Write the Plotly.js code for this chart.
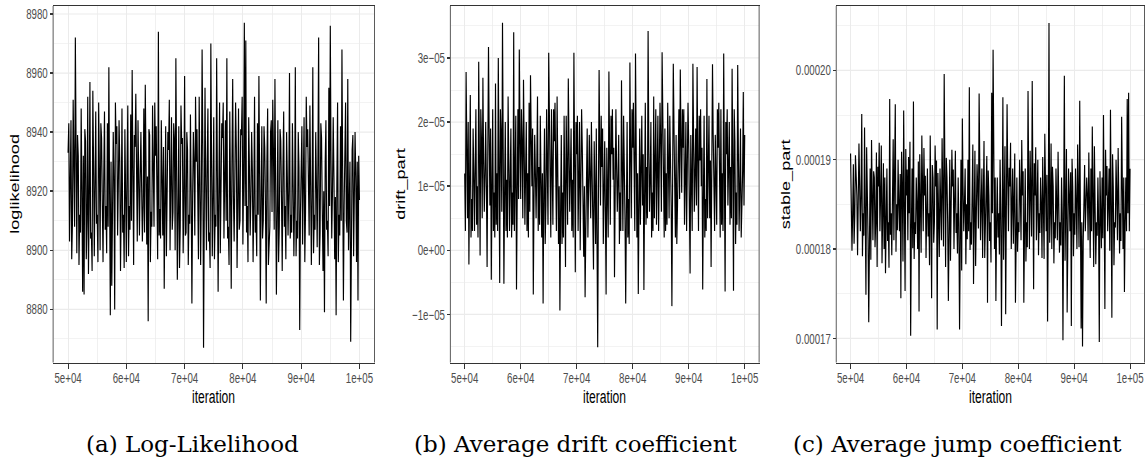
<!DOCTYPE html>
<html>
<head>
<meta charset="utf-8">
<script src="https://cdn.plot.ly/plotly-3.0.1.min.js"></script>
<style>
  html, body { margin: 0; padding: 0; background: #ffffff; }
  #wrap { position: relative; width: 1148px; height: 460px; background: #ffffff; overflow: hidden; }
  #main { position: absolute; left: 0; top: 0; width: 1148px; height: 285px; transform: scaleY(1.5); transform-origin: 0 0; }
  #caps { position: absolute; left: 0; top: 426px; width: 1148px; height: 36px; }
</style>
</head>
<body>
<div id="wrap">
  <div id="main"></div>
  <div id="caps"></div>
</div>
<script>
// ---------------- data ----------------
const iterStart = 50000;
const iterStep = 125;

const xTickVals = [50000, 60000, 70000, 80000, 90000, 100000];
const xTickText = ["5e+04", "6e+04", "7e+04", "8e+04", "9e+04", "1e+05"];

const logLikTickVals = [8880, 8900, 8920, 8940, 8960, 8980];
const driftTickVals = [-1e-5, 0, 1e-5, 2e-5, 3e-5];
const driftTickText = ["\u22121e\u221205", "0e+00", "1e\u221205", "2e\u221205", "3e\u221205"];
const stableTickVals = [0.00017, 0.00018, 0.00019, 0.00020];
const stableTickText = ["0.00017", "0.00018", "0.00019", "0.00020"];

const panelTitles = ["loglikelihood", "drift_part", "stable_part"];
const xTitle = "iteration";
const captions = ["(a) Log-Likelihood", "(b) Average drift coefficient", "(c) Average jump coefficient"];

// loglikelihood trace
const logLikelihood = [
8933,8943,8903,8918,8944,8897,8909,8951,8930,8908,8972,8926,8899,8939,8932,8895,8912,8906,8948,8920,
8886,8932,8885,8941,8937,8897,8910,8952,8892,8915,8957,8904,8906,8893,8954,8930,8898,8922,8947,8909,
8912,8896,8950,8928,8900,8943,8938,8916,8896,8925,8947,8907,8915,8899,8943,8908,8962,8920,8878,8930,
8888,8912,8940,8925,8880,8950,8936,8942,8905,8922,8944,8930,8893,8915,8948,8906,8912,8894,8941,8920,
8896,8928,8949,8898,8915,8907,8946,8910,8961,8927,8895,8939,8935,8953,8910,8903,8944,8918,8905,8925,
8940,8921,8903,8915,8948,8906,8956,8930,8902,8925,8876,8941,8939,8896,8913,8908,8949,8928,8908,8950,
8932,8942,8919,8897,8974,8905,8914,8904,8944,8925,8905,8935,8887,8916,8942,8898,8916,8940,8934,8951,
8900,8920,8945,8907,8913,8943,8938,8900,8965,8928,8890,8912,8942,8894,8908,8949,8936,8938,8899,8918,
8959,8905,8906,8940,8934,8895,8912,8909,8946,8920,8882,8918,8940,8930,8905,8952,8930,8941,8910,8897,
8952,8926,8895,8920,8968,8935,8867,8912,8955,8922,8900,8930,8948,8903,8906,8894,8970,8930,8898,8918,
8945,8897,8912,8908,8965,8925,8886,8920,8950,8899,8915,8943,8938,8950,8904,8920,8944,8910,8965,8904,
8908,8895,8947,8920,8887,8930,8958,8918,8903,8925,8950,8935,8894,8916,8948,8907,8910,8941,8939,8952,
8902,8925,8977,8915,8971,8906,8915,8896,8945,8928,8905,8918,8940,8927,8896,8915,8952,8906,8912,8898,
8943,8912,8959,8925,8883,8918,8942,8904,8910,8942,8935,8915,8882,8930,8948,8895,8907,8908,8940,8944,
8913,8951,8933,8907,8958,8924,8885,8912,8944,8896,8908,8941,8937,8918,8893,8928,8947,8908,8915,8897,
8940,8925,8905,8920,8960,8904,8912,8906,8943,8922,8898,8916,8962,8898,8910,8904,8940,8928,8873,8912,
8938,8942,8902,8918,8945,8896,8913,8952,8935,8941,8908,8905,8949,8925,8895,8918,8962,8899,8912,8907,
8940,8922,8901,8930,8972,8895,8906,8943,8938,8914,8893,8920,8879,8930,8944,8907,8910,8898,8955,8915,
8976,8930,8904,8920,8945,8925,8897,8918,8878,8922,8950,8896,8912,8905,8942,8910,8968,8926,8883,8915,
8936,8950,8910,8906,8958,8900,8915,8930,8869,8920,8934,8939,8898,8918,8940,8925,8896,8930,8883,8932,
8917];

// drift_part trace, in units of 1e-6
const driftPartE6 = [
12,3,27.8,14,5,20,-2.2,11,24.2,2,8,3,19,12,3,13,22,4,10,2,
29.4,15,-0.8,22,17,5,26.9,14,6,12,20,10,-2.6,15,31.7,18,7,19,-4.6,10,
22,3,9,2,26,4,12,3,30.0,13,-5.1,22,18,6,35.5,16,-5.2,9,20,3,
11,2,24,14,3,11,19,2,9,4,34.0,3,14,21,-6.1,12,22,8,31.3,17,
8,22,17,5,26.6,16,4,12,20,3,12,2,23,6,27.3,18,10,19,-6.9,8,
18,12,5,13,24,3,13,4,21,11,2,12,-8.3,9,19,1,7,22,16,4,
30.8,20,10,2,22,13,4,22,17,23,13,3,24,12,1,10,-9.4,6,18,1,
9,2,21,10,-2.6,21,14,4,26.8,15,6,12,19,3,11,2,30.8,14,-3.4,20,
15,21,3,11,20,0,8,22,16,8,-1,10,-7.3,3,12,19,2,10,18,11,
5,20,14,8,-3,17,10,1,19,5,-15.1,8,28.1,16,7,21,13,19,1,9,
17,6,-6.9,16,9,2,27.9,14,4,21,15,22,11,16,-4.2,9,22,13,6,11,
18,1,9,3,26.5,13,3,21,14,5,-8.3,8,20,2,8,1,29.3,15,5,22,
16,23,10,3,30.7,14,2,12,-6.8,7,19,4,12,21,7,15,-6.2,10,23,4,
13,5,34.2,16,6,11,20,2,9,3,24,5,14,22,4,12,21,3,11,23,
17,6,30.9,18,8,2,19,3,12,4,23,14,5,21,15,7,-8.7,10,29.1,19,
10,2,18,1,7,14,22,8,28.2,17,9,22,16,22,4,11,20,3,12,23,
17,9,-3.6,18,11,3,29.1,15,6,12,19,7,28.6,14,3,21,14,22,10,16,
-6.1,8,21,2,8,3,26.7,5,13,21,5,14,-2.6,12,29.0,18,11,3,18,12,
4,22,16,23,9,2,22,4,12,3,30.7,13,-6.4,20,15,22,7,13,20,4,
13,5,28.3,14,-6.3,22,17,1,9,4,28.9,15,3,10,19,2,8,12,24.7,7,
18];

// stable_part trace, in units of 1e-6
const stablePartE6 = [
190.7,185,179.8,184,189.5,180.6,183.6,190.5,188,186,179.3,185,191.8,187,182,186,195.1,179.2,184,181.5,
193.6,184,174.9,191.4,187,181.2,171.8,183,189,178.8,192.2,186,181,188.7,188,180.2,183,190.8,178.0,189.2,
187,191.9,182,186,191.6,178.4,185,189.6,180,188,177.3,184,189,180.9,183,177.9,196.8,181.6,184,179.3,
188,192.3,181,186,196.2,179.7,185,182.1,190,185,182,188.4,174.5,190.9,187,178.6,195.5,185,175.3,191.2,
186,188.9,181,190.3,184,192.0,170.3,182,189,180.1,196.5,178.9,183,181.7,188,185,180,189.8,173.0,190.6,
187,179.6,192.7,186,182,191.3,186,188.2,179,184,189,181.4,184,178.2,192.7,184,174.5,189.4,188,180.7,
183,191.6,187,189.9,171.0,188.5,185,179.1,189,185,181,192.4,186,180.3,199.6,188,178,190.2,188,183,
174.2,182,190,178.7,183,191.1,187,188.9,180,185,191,181.8,184,179.5,188,183,171.0,180.8,190,177.6,
194.6,187,182,185,189,178.3,185,181.1,190,182,198.1,179.9,183,180.5,188,191.7,176.1,184,191,178.1,
184,189.5,187,182.3,197.4,188,181,185,189,179.0,185,192.1,179,184,188,190.4,174.0,188.8,186,180.9,
183,178.5,197.5,184,202.3,188,180,188,174.2,183,188,181.3,184,179.4,190,184,171.4,183,197.0,178.8,
185,191.5,172.7,183,196.2,188,182,189.1,187,191.9,180,185,189,180.6,184,190.7,174.0,182,188,179.7,
183,181.9,190,186,181,192.2,186,188.7,174.0,182,189,178.6,183,180.2,197.7,187,180,191.0,187,181.4,
198.8,186,175.5,189.6,186,191.4,181,185,190,179.3,184,181.8,188,185,179,190.3,186,178.9,192.9,187,
182,188.3,171.9,184,205.3,180.7,184,191.8,180,189.2,187,178.4,183,181.2,189,185,181,190.9,186,179.6,
183,180.4,188,184,169.8,183,199.4,178.7,184,191.2,172.9,182,189,186,182,188.6,171.4,190.1,187,179.2,
184,181.6,189,185,180,191.7,186,180.2,196.6,185,171.1,183,169.1,180.8,187,189.4,182,185,188,186,
181,190.8,185,179.0,189,182,193.7,186,178,191.5,186,178.3,183,181.5,188,183,169.6,188.7,184,180.1,
188,181.2,195.0,185,173.3,191.1,186,189.3,182,185,189,179.8,195.6,185,172.3,190.6,187,178.2,183,182.4,
190,186,181,191.3,186,179.5,184,180.9,194.8,186,180,188,175.2,183,188,182,196.8,184,197.5,182,
189];

// ---------------- build ----------------
const iteration = logLikelihood.map((_, i) => iterStart + i * iterStep);
const driftPart = driftPartE6.map(v => v * 1e-6);
const stablePart = stablePartE6.map(v => v * 1e-6);

const lineStyle = { color: "#000000", width: 1.15 };
const traces = [
  { x: iteration, y: logLikelihood, xaxis: "x", yaxis: "y", type: "scatter", mode: "lines", line: lineStyle, hoverinfo: "skip" },
  { x: iteration, y: driftPart, xaxis: "x2", yaxis: "y2", type: "scatter", mode: "lines", line: lineStyle, hoverinfo: "skip" },
  { x: iteration, y: stablePart, xaxis: "x3", yaxis: "y3", type: "scatter", mode: "lines", line: lineStyle, hoverinfo: "skip" }
];

const W = 1148, H = 285;
const tickFont = { family: "Liberation Sans, Arial, sans-serif", size: 9.7, color: "#4d4d4d" };
const titleFont = { family: "Liberation Sans, Arial, sans-serif", size: 12.1, color: "#000000" };
const gridCol = "#ebebeb";
const yDom = [1 - 241.7 / H, 1 - 4 / H];

function xAxis(dom, anchor) {
  return {
    domain: dom, anchor: anchor, range: [47500, 102500],
    tickmode: "array", tickvals: xTickVals, ticktext: xTickText,
    ticks: "outside", ticklen: 3, tickwidth: 1, tickcolor: "#333333",
    ticklabelstandoff: -2,
    tickfont: tickFont,
    showline: true, mirror: true, linecolor: "#333333", linewidth: 1,
    showgrid: true, gridcolor: gridCol, gridwidth: 1, zeroline: false,
    minor: { tickmode: "array", tickvals: [55000, 65000, 75000, 85000, 95000], showgrid: true, gridcolor: gridCol, gridwidth: 0.6, ticks: "" },
    fixedrange: true
  };
}
function yAxis(range, tv, tt, minorVals, anchor) {
  const a = {
    domain: yDom, anchor: anchor, range: range,
    tickmode: "array", tickvals: tv,
    ticks: "outside", ticklen: 3, tickwidth: 1, tickcolor: "#333333",
    tickfont: tickFont,
    showline: true, mirror: true, linecolor: "#333333", linewidth: 0.8,
    showgrid: true, gridcolor: gridCol, gridwidth: 0.8, zeroline: false,
    minor: { tickmode: "array", tickvals: minorVals, showgrid: true, gridcolor: gridCol, gridwidth: 0.5, ticks: "" },
    fixedrange: true
  };
  if (tt) a.ticktext = tt;
  return a;
}

const x1 = [53.5 / W, 374 / W], x2 = [450.7 / W, 758.7 / W], x3 = [836.6 / W, 1144 / W];
const titleY = 1 - 265.3 / H;
const midY = (yDom[0] + yDom[1]) / 2;

const layout = {
  width: W, height: H,
  margin: { l: 0, r: 0, t: 0, b: 0, pad: 0 },
  paper_bgcolor: "#ffffff", plot_bgcolor: "#ffffff",
  showlegend: false,
  xaxis: xAxis(x1, "y"),
  xaxis2: xAxis(x2, "y2"),
  xaxis3: xAxis(x3, "y3"),
  yaxis: yAxis([8862.0, 8982.7], logLikTickVals, null, [8870, 8890, 8910, 8930, 8950, 8970], "x"),
  yaxis2: yAxis([-1.75e-5, 3.81e-5], driftTickVals, driftTickText, [-1.5e-5, -0.5e-5, 0.5e-5, 1.5e-5, 2.5e-5, 3.5e-5], "x2"),
  yaxis3: yAxis([1.673e-4, 2.072e-4], stableTickVals, stableTickText, [1.75e-4, 1.85e-4, 1.95e-4, 2.05e-4], "x3"),
  annotations: [
    { text: xTitle, xref: "paper", yref: "paper", x: (x1[0] + x1[1]) / 2, y: titleY, xanchor: "center", yanchor: "middle", showarrow: false, font: titleFont },
    { text: xTitle, xref: "paper", yref: "paper", x: (x2[0] + x2[1]) / 2, y: titleY, xanchor: "center", yanchor: "middle", showarrow: false, font: titleFont },
    { text: xTitle, xref: "paper", yref: "paper", x: (x3[0] + x3[1]) / 2, y: titleY, xanchor: "center", yanchor: "middle", showarrow: false, font: titleFont },
    { text: panelTitles[0], xref: "paper", yref: "paper", x: 15 / W, y: midY, xanchor: "center", yanchor: "middle", textangle: -90, showarrow: false, font: titleFont },
    { text: panelTitles[1], xref: "paper", yref: "paper", x: 400.7 / W, y: midY, xanchor: "center", yanchor: "middle", textangle: -90, showarrow: false, font: titleFont },
    { text: panelTitles[2], xref: "paper", yref: "paper", x: 786 / W, y: midY, xanchor: "center", yanchor: "middle", textangle: -90, showarrow: false, font: titleFont }
  ]
};

Plotly.newPlot("main", traces, layout, { staticPlot: true, displayModeBar: false });

const capFont = { family: "DejaVu Serif, Liberation Serif, serif", size: 23, color: "#000000" };
const capX = [192 / W, 575 / W, 957 / W];
const capLayout = {
  width: W, height: 36,
  margin: { l: 0, r: 0, t: 0, b: 0, pad: 0 },
  paper_bgcolor: "rgba(0,0,0,0)", plot_bgcolor: "rgba(0,0,0,0)",
  xaxis: { visible: false, range: [0, 1], fixedrange: true },
  yaxis: { visible: false, range: [0, 1], fixedrange: true },
  showlegend: false,
  annotations: captions.map((t, i) => ({
    text: t, xref: "paper", yref: "paper", x: capX[i], y: 0.5,
    xanchor: "center", yanchor: "middle", showarrow: false, font: capFont
  }))
};
Plotly.newPlot("caps", [], capLayout, { staticPlot: true, displayModeBar: false });
</script>
</body>
</html>
